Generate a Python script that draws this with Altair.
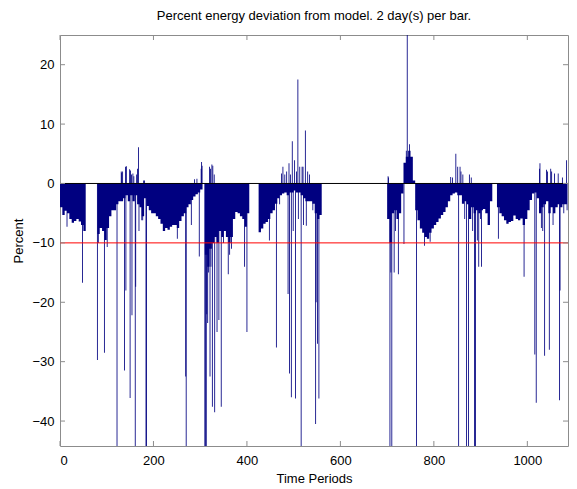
import altair as alt
import pandas as pd

# ---------------- data ----------------
BIN = 5  # periods covered by each entry of base_values
base_values = [
    -4.0, -5.3, -4.6, -5.0, -6.0, -6.6, -6.3, -6.0, -6.4, -7.0,   # 0-50
    -8.0, 0, 0, 0, 0, 0, -8.5, -7.5, -8.0, -9.5,                   # 50-100
    -7.5, -5.5, -4.5, -4.5, -3.5, -3.0, -3.0, -2.5, -2.0, -3.0,     # 100-150
    -2.0, -3.0, -2.0, -3.5, -4.0, -5.5, -2.5, -3.8, -4.5, -5.0,     # 150-200
    -5.0, -5.5, -6.0, -6.8, -8.0, -7.5, -7.8, -7.3, -7.0, -7.0,     # 200-250
    -7.5, -6.3, -5.5, -5.0, -4.0, -3.5, -2.8, -2.2, -1.8, -1.5,     # 250-300
    -1.0, 0, -12.0, -14.0, -11.0, -10.0, -9.0, -10.0, -8.0, -9.0,   # 300-350
    -8.0, -9.0, -10.0, -9.0, -6.0, -4.8, -5.0, -5.5, -6.0, -7.3,    # 350-400
    -5.0, 0, 0, 0, 0, -8.2, -7.6, -6.8, -6.5, -6.0,                 # 400-450
    -5.0, -4.5, -3.4, -2.5, -2.0, -1.7, -1.5, -2.0, -1.5, -1.5,     # 450-500
    -1.2, -1.5, -1.5, -2.0, -2.5, -3.0, -3.0, -3.0, -3.4, -5.0,     # 500-550
    -6.0, -5.3, 0, 0, 0, 0, 0, 0, 0, 0,                             # 550-600
    0, 0, 0, 0, 0, 0, 0, 0, 0, 0,                                   # 600-650
    0, 0, 0, 0, 0, 0, 0, 0, 0, 0,                                   # 650-700
    -6.0, -10.0, -5.0, -4.5, -6.0, -5.0, -1.7, 3.5, 4.5, 5.5,       # 700-750
    4.5, 0.5, -4.5, -6.2, -7.6, -8.3, -9.0, -9.3, -8.3, -7.6,       # 750-800
    -7.0, -6.5, -5.9, -5.3, -4.8, -4.0, -3.0, -2.0, -1.7, -1.5,     # 800-850
    -2.0, -2.0, -3.4, -3.0, -3.5, -6.0, -4.0, -5.0, -4.5, -5.0,     # 850-900
    -4.5, -4.3, -5.0, -7.0, -3.0, 0, 0, -4.0, -5.0, -5.5,           # 900-950
    -6.2, -6.8, -6.5, -6.3, -5.4, -6.0, -6.2, -5.9, -7.0, -6.0,     # 950-1000
    -4.5, -2.8, -1.7, -1.5, -2.5, -5.0, -4.0, -3.5, -3.0, -5.0,     # 1000-1050
    -4.0, -5.0, -4.0, -3.5, -4.0, -3.5, -3.5,                       # 1050-1085
]

spike_periods = [
    15, 48, 80, 82, 95, 101, 122, 131, 132, 134, 138, 140, 141, 142, 149, 150,
    151, 153, 154, 156, 158, 161, 162, 164, 166, 168, 169, 175, 177, 179, 181,
    184, 185, 251, 269, 270, 281, 288, 293, 298, 302, 303, 304, 310, 311, 313,
    314, 316, 318, 320, 321, 322, 323, 325, 326, 327, 330, 331, 336, 340, 345,
    350, 355, 360, 363, 367, 395, 400, 448, 463, 470, 474, 477, 481, 485, 488,
    490, 491, 493, 495, 497, 499, 502, 504, 506, 509, 510, 513, 516, 518, 520,
    521, 525, 527, 530, 534, 541, 547, 548, 551, 554, 702, 703, 706, 708, 710,
    715, 718, 724, 736, 741, 743, 748, 763, 780, 792, 836, 840, 847, 851, 853,
    856, 858, 862, 866, 870, 874, 876, 880, 883, 887, 889, 893, 896, 900, 902,
    938, 993, 1016, 1019, 1026, 1027, 1030, 1033, 1037, 1041, 1043, 1047, 1050,
    1052, 1055, 1058, 1066, 1069, 1070, 1075, 1078, 1084, 1085,
]
spike_values = [
    -7.3, -16.7, -29.7, -10, -28.5, -10.7, -50, 2.0, 1.8, 2.0, -31.5, 2.8, -18, 2.9, 2.4, -36.1,
    2.2, 1.5, -22.2, 1.7, 1.2, -50, -17.4, 1.5, 2.5, 6.1, -8, -6.2, -6.2, 0.5, 0.5,
    -50, -50, -9.3, -32.5, -50, -7.0, 0.7, 0.8, -12.3, 2.5, 3.6, 3.0, -50, -50, -50,
    -22, -23.5, -15, 2.8, -32.5, 2.5, -14, 3.2, -37.6, 3.0, 1.5, -38.5, -25, -23, -37.6,
    -10, -8, -15.3, -12, -11, -14, -25, -9.6, -27.6, -3.5, 1.7, 2.8, 1.5, 2.0, -18.6,
    3.4, -32, 1.5, -36, 7.1, -8, 3.9, -36.2, 2.0, 17.5, -6, 2.8, -50, 2.8, 2.8,
    -7, 8.9, -7.1, 2.0, 1.5, -4.5, -40.5, -20, -27, -36.2, 1.2, 1.0, -50, -15, -50,
    -15, -8, -15.3, -10.2, 5.5, 25, 6.6, -50, -10.5, -9.8, 1.1, 1.0, 5.0, 2.8, -50,
    2.8, 2.0, 1.5, -6, -50, -50, 1.5, 1.0, -8, -50, -50, -9.6, -14, -6, -14,
    -9.3, -15.7, -28.8, -36.9, 2.5, 3.4, -7.5, -8, -29, 2.3, 2.0, -28, 2.5,
    2.0, -7, 1.7, 1.7, -36.5, -18, 1.0, -5, 3.9, -4.5,
]

x_ticks = [0, 200, 400, 600, 800, 1000]
y_ticks = [-40, -30, -20, -10, 0, 10, 20]
threshold = [-10]
zero_line = [0]
X_MAX = 1087
Y_MIN, Y_MAX = -44.2, 25

# ---------------- styling ----------------
W, H = 508, 411
NAVY = "#000080"
AX = "#8c8c8c"
FONT = "Liberation Sans"
TICK = 5
HALF = 0.9  # half width of a single bar, in periods

base_df = pd.DataFrame({
    "period": [i * BIN for i in range(len(base_values))] + [len(base_values) * BIN],
    "pct": base_values + [base_values[-1]],
})
spike_df = pd.DataFrame({
    "period": [p - HALF for p in spike_periods],
    "end": [p + HALF for p in spike_periods],
    "pct": spike_values,
})

xs = alt.Scale(domain=[0, X_MAX], nice=False, zero=False)
ys = alt.Scale(domain=[Y_MIN, Y_MAX], nice=False, zero=False)

x_axis = alt.Axis(values=x_ticks, title="Time Periods", grid=False, ticks=False,
                  domain=False, labelPadding=8, titlePadding=5, format="d")
y_axis = alt.Axis(values=y_ticks, title="Percent", grid=False, ticks=False,
                  domain=False, labelPadding=6, titlePadding=6, format="d")

base = alt.Chart(base_df).mark_area(interpolate="step-after", color=NAVY, clip=True).encode(
    x=alt.X("period:Q", scale=xs, axis=x_axis),
    y=alt.Y("pct:Q", scale=ys, axis=y_axis),
    y2=alt.datum(0),
)

spikes = alt.Chart(spike_df).mark_bar(color=NAVY, clip=True).encode(
    x=alt.X("period:Q", scale=xs),
    x2="end:Q",
    y=alt.Y("pct:Q", scale=ys),
    y2=alt.datum(0),
)

zero = alt.Chart(pd.DataFrame({"pct": zero_line})).mark_rule(color="black", strokeWidth=1).encode(
    y=alt.Y("pct:Q", scale=ys)
)
red = alt.Chart(pd.DataFrame({"pct": threshold})).mark_rule(color="#ff0000", strokeWidth=1).encode(
    y=alt.Y("pct:Q", scale=ys)
)

xt = pd.DataFrame({"period": x_ticks})
yt = pd.DataFrame({"pct": y_ticks})
tick_b = alt.Chart(xt).mark_rule(color=AX).encode(
    x=alt.X("period:Q", scale=xs), y=alt.value(H), y2=alt.value(H - TICK))
tick_t = alt.Chart(xt).mark_rule(color=AX).encode(
    x=alt.X("period:Q", scale=xs), y=alt.value(0), y2=alt.value(TICK))
tick_l = alt.Chart(yt).mark_rule(color=AX).encode(
    y=alt.Y("pct:Q", scale=ys), x=alt.value(0), x2=alt.value(TICK))
tick_r = alt.Chart(yt).mark_rule(color=AX).encode(
    y=alt.Y("pct:Q", scale=ys), x=alt.value(W), x2=alt.value(W - TICK))

chart = alt.layer(base, spikes, zero, red, tick_b, tick_t, tick_l, tick_r).properties(
    width=W,
    height=H,
    title=alt.TitleParams("Percent energy deviation from model. 2 day(s) per bar.",
                          fontSize=13, fontWeight="normal", font=FONT, color="black",
                          anchor="middle", baseline="bottom", offset=-1),
    autosize=alt.AutoSizeParams(type="none"),
    padding={"left": 52, "top": 27, "right": 1, "bottom": 40},
).configure_view(
    stroke=AX, strokeWidth=1
).configure_axis(
    labelFont=FONT, labelFontSize=13, labelColor="black",
    titleFont=FONT, titleFontSize=13, titleFontWeight="normal", titleColor="black",
)

chart.save("out.html", embed_options={"renderer": "svg", "actions": False})
